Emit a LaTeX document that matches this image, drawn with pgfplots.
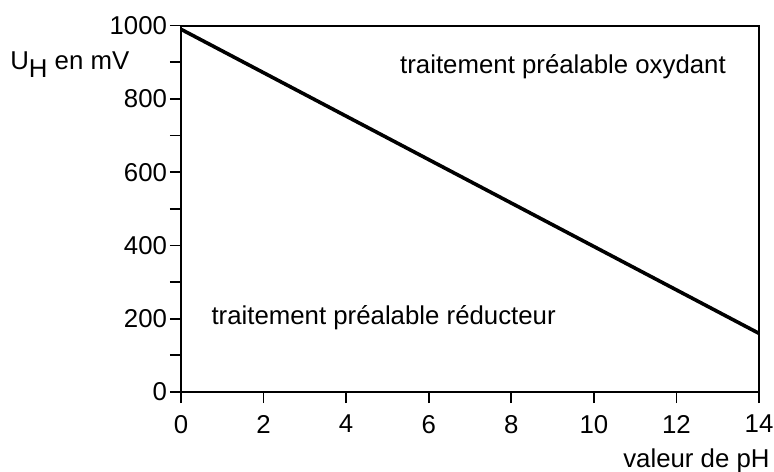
\documentclass[border=0pt]{standalone}
\usepackage{pgfplots}
\pgfplotsset{compat=1.18}
\usepackage{fontspec}
\setmainfont{Liberation Sans}

\begin{document}
\fontsize{12.9}{15}\selectfont
\begin{tikzpicture}
  \begin{axis}[
      at={(0pt,0pt)}, anchor=south west,
      width=289pt, height=183.2pt, scale only axis,
      xmin=0, xmax=14, ymin=0, ymax=1000,
      clip mode=individual,
      xtick={0,2,...,14},
      ytick={0,200,...,1000},
      minor ytick={100,300,...,900},
      tick align=outside,
      xtick pos=left,
      ytick pos=left,
      major tick length=5.5pt,
      minor tick length=5.5pt,
      axis line style={line width=1pt},
      every tick/.style={black, line width=0.9pt},
      tick label style={font=\fontsize{12.9}{15}\selectfont},
      yticklabel style={xshift=3pt},
      xticklabel style={yshift=-1.5pt},
      /pgf/number format/assume math mode=true,
      /pgf/number format/1000 sep={},
    ]

    \addplot[black, line width=1.8pt] coordinates {
      (0, 990)
      (14, 160)
    };

    \node[anchor=west, inner sep=0pt] at (axis cs:5.3, 887)
      {traitement préalable oxydant};
    \node[anchor=west, inner sep=0pt] at (axis cs:0.73, 202)
      {traitement préalable réducteur};
    \node[anchor=base west, inner sep=0pt] at (rel axis cs:-0.296, 0.879)
      {U\raisebox{-4pt}{H} en mV};
    \node[anchor=base east, inner sep=0pt] at (rel axis cs:1.019, -0.205)
      {valeur de pH};
  \end{axis}
  \pgfresetboundingbox
  \path (-90.5pt,-39.5pt) rectangle (296.5pt,196pt);
\end{tikzpicture}
\end{document}
